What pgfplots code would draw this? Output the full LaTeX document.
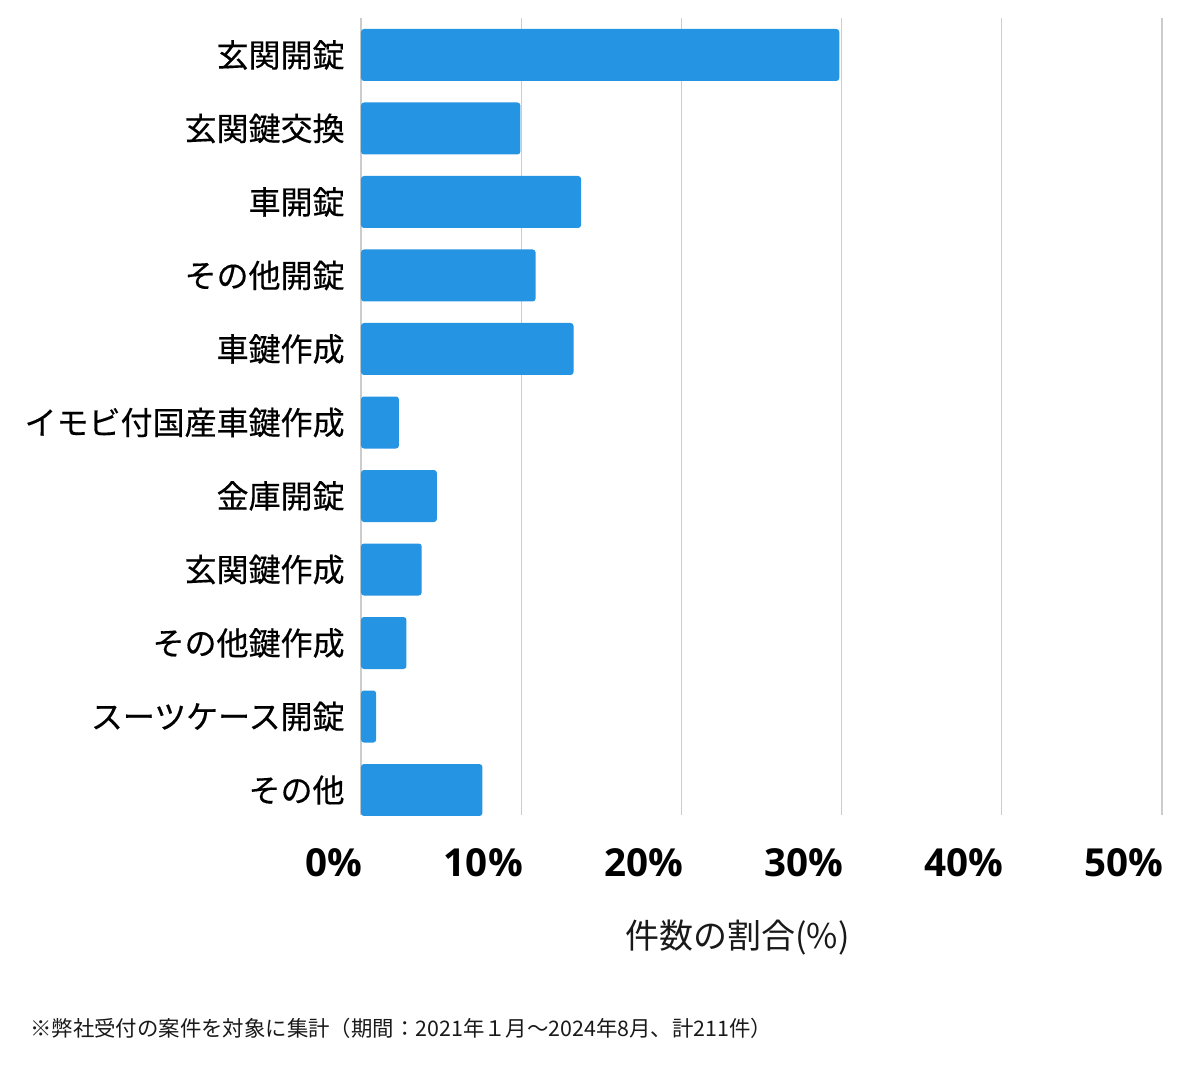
\documentclass[border=0pt]{standalone}
\usepackage{fontspec}
\setmainfont{Noto Sans CJK JP}
\newfontfamily\labfont{Noto Sans CJK JP}[FakeBold=0.4]
\newfontfamily\tickfont{Open Sans}
\usepackage{pgfplots}
\pgfplotsset{compat=1.18}
\definecolor{barblue}{HTML}{2594E3}
\definecolor{gridgray}{HTML}{CCCCCC}
\begin{document}
\begin{tikzpicture}
\path[use as bounding box] (0,0) rectangle (600pt,-534.5pt);
\begin{axis}[
  at={(180.5pt,-407.5pt)}, anchor=south west,
  scale only axis, width=400.5pt, height=398.5pt,
  xbar, bar width=26pt,
  xmin=0, xmax=50,
  y dir=reverse, ymin=-0.503, ymax=10.34,
  ytick={0,...,10},
  yticklabels={玄関開錠,玄関鍵交換,車開錠,その他開錠,車鍵作成,イモビ付国産車鍵作成,金庫開錠,玄関鍵作成,その他鍵作成,スーツケース開錠,その他},
  xtick={0,10,20,30,40,50},
  xticklabels={0\%,10\%,20\%,30\%,40\%,50\%},
  major tick length=0pt,
  axis line style={draw=none},
  xmajorgrids, grid style={gridgray, line width=0.6pt},
  yticklabel style={anchor=east, inner sep=0pt, xshift=-8pt, font=\labfont\fontsize{16pt}{18pt}\selectfont, text=black},
  xticklabel style={anchor=north east, inner sep=0pt, yshift=-16.5pt, xshift=1pt, font=\tickfont\bfseries\fontsize{19.3pt}{22pt}\selectfont, text=black},
]
\addplot[fill=barblue, draw=none, rounded corners=1.5pt] coordinates {
(29.86,0) (9.95,1) (13.74,2) (10.90,3) (13.27,4) (2.37,5) (4.74,6) (3.79,7) (2.84,8) (0.95,9) (7.58,10)};
\end{axis}
\node[inner sep=0pt, font=\fontsize{17pt}{19pt}\selectfont, text=black!90] at (368.75pt,-469pt) {件数の割合(\%)};
\node[inner sep=0pt, anchor=west, font=\fontsize{10.7pt}{12pt}\selectfont, text=black!90] at (15pt,-514pt) {※弊社受付の案件を対象に集計（期間：2021年１月～2024年8月、計211件）};
\end{tikzpicture}
\end{document}
